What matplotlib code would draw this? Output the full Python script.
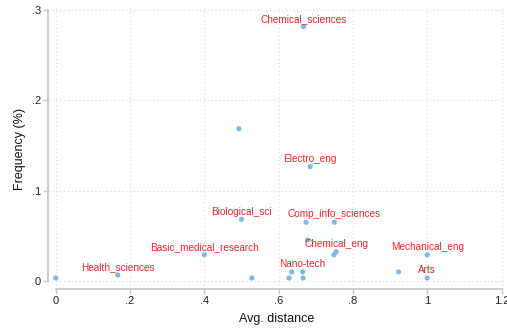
import matplotlib.pyplot as plt

# avg. distance / frequency per field
avg_dist = [0.667, 0.493, 0.685, 0.500, 0.400, 0.167, 0.000, 0.528,
            0.674, 0.750, 0.678, 0.755, 0.749, 1.000, 0.635, 0.665,
            0.628, 0.666, 0.923, 1.000]
freq = [0.2816, 0.1687, 0.1266, 0.0683, 0.0291, 0.0066, 0.0033, 0.0033,
        0.0650, 0.0650, 0.0454, 0.0324, 0.0290, 0.0290, 0.0100, 0.0100,
        0.0033, 0.0033, 0.0100, 0.0033]
labels = ["Chemical_sciences", "", "Electro_eng", "Biological_sci",
          "Basic_medical_research", "Health_sciences", "", "",
          "", "Comp_info_sciences", "", "Chemical_eng", "", "Mechanical_eng",
          "", "Nano-tech", "", "", "", "Arts"]

xticks = [0, 0.2, 0.4, 0.6, 0.8, 1.0, 1.2]
xtick_labels = ["0", ".2", ".4", ".6", ".8", "1", "1.2"]
yticks = [0, 0.1, 0.2, 0.3]
ytick_labels = ["0", ".1", ".2", ".3"]

plt.rcParams["font.family"] = ["Liberation Sans", "DejaVu Sans"]

fig = plt.figure(figsize=(5.07, 3.29), dpi=100)
ax = fig.add_axes([48 / 507, 40 / 329, 457 / 507, 281 / 329])

ax.scatter(avg_dist, freq, s=14, color="#7db9e5", edgecolors="none", zorder=3)
for x, y, lab in zip(avg_dist, freq, labels):
    if lab:
        ax.annotate(lab, (x, y), xytext=(0, 2), textcoords="offset points",
                    ha="center", va="bottom", fontsize=7.2, color="#e8262b", zorder=4)

ax.set_xlim(-0.0207, 1.2094)
ax.set_ylim(-0.0089, 0.3023)
ax.set_xticks(xticks)
ax.set_xticklabels(xtick_labels)
ax.set_yticks(yticks)
ax.set_yticklabels(ytick_labels)

ax.grid(True, color="#d8d8d8", linestyle=(0, (1, 2.5)), linewidth=0.8)
ax.set_axisbelow(True)

for side in ["top", "right"]:
    ax.spines[side].set_visible(False)
ax.spines["left"].set_bounds(0, 0.3)
ax.spines["bottom"].set_bounds(0, 1.2)
for side in ["left", "bottom"]:
    ax.spines[side].set_color("#c8c8c8")
    ax.spines[side].set_linewidth(1.3)

ax.tick_params(axis="both", colors="#c8c8c8", labelcolor="#222222",
               labelsize=8, length=3.5, width=1, pad=1.5)

ax.set_xlabel("Avg. distance", fontsize=9, color="#111111", labelpad=5)
ax.set_ylabel("Frequency (%)", fontsize=9, color="#111111", labelpad=4)

fig.savefig("out.png", dpi=100)
